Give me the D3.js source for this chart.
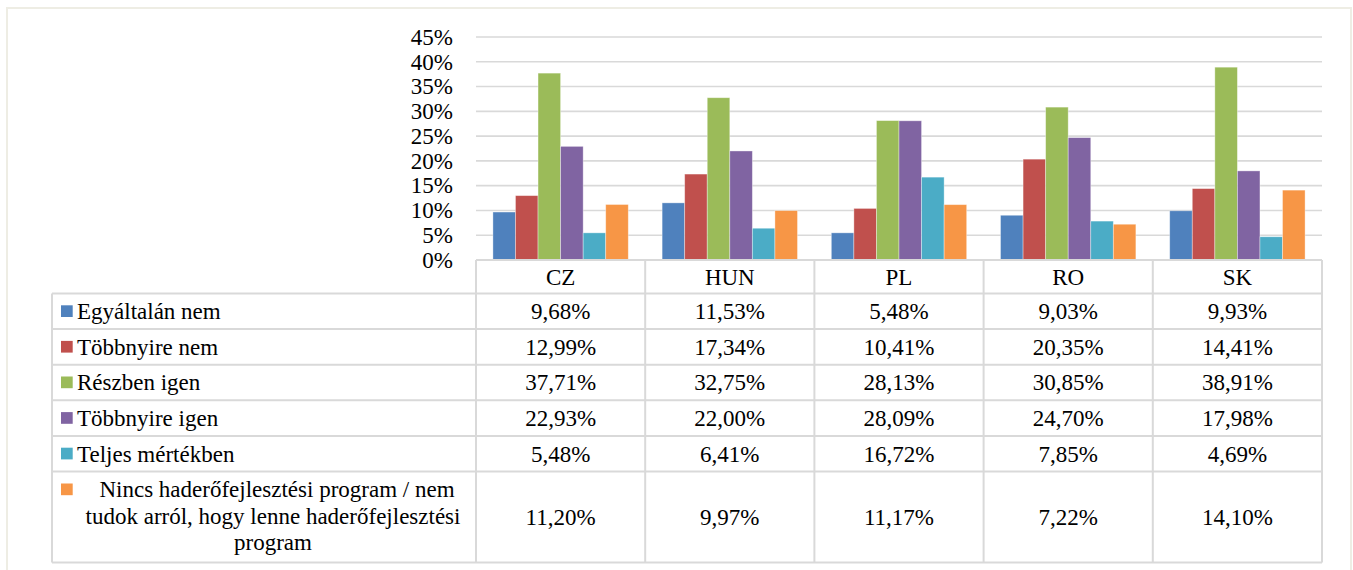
<!DOCTYPE html>
<html><head><meta charset="utf-8">
<script src="https://cdn.jsdelivr.net/npm/d3@7"></script>
</head><body style="margin:0">
<svg id="c" width="1353" height="570"></svg>
<script>
const categories = ["CZ","HUN","PL","RO","SK"];
const seriesLabelLines = [["Egyáltalán nem"],["Többnyire nem"],["Részben igen"],["Többnyire igen"],["Teljes mértékben"],["Nincs haderőfejlesztési program / nem","tudok arról, hogy lenne haderőfejlesztési","program"]];
const egyaltalanNem = [9.68,11.53,5.48,9.03,9.93];
const tobbnyireNem = [12.99,17.34,10.41,20.35,14.41];
const reszbenIgen = [37.71,32.75,28.13,30.85,38.91];
const tobbnyireIgen = [22.93,22.00,28.09,24.70,17.98];
const teljesMertekben = [5.48,6.41,16.72,7.85,4.69];
const nincsProgram = [11.20,9.97,11.17,7.22,14.10];
const yTicks = [0,5,10,15,20,25,30,35,40,45];
const colors = ["#4F81BD","#C0504D","#9BBB59","#8064A2","#4BACC6","#F79646"];

const series = [egyaltalanNem,tobbnyireNem,reszbenIgen,tobbnyireIgen,teljesMertekben,nincsProgram];
const svg = d3.select("#c");
const FS = 23;
const lineCol = "#d9d9d9";

svg.append("path").attr("d","M7,575 L7,8 L1351,8 L1351,575").attr("fill","none").attr("stroke","#eeede4").attr("stroke-width",2);

const x = d3.scaleBand().domain(categories).range([476,1322]).padding(0);
const bw = x.bandwidth();
const x1 = d3.scaleBand().domain(d3.range(6)).range([bw*0.1, bw*0.9]).padding(0);
const y = d3.scaleLinear().domain([0,45]).range([260,37]);

svg.append("g").selectAll("line").data(yTicks.filter(t=>t>0)).join("line")
  .attr("x1",476).attr("x2",1322).attr("y1",d=>y(d)).attr("y2",d=>y(d))
  .attr("stroke",lineCol).attr("stroke-width",1.6);

const gb = svg.append("g");
series.forEach((vals,si)=>{
  gb.append("g").selectAll("rect").data(vals).join("rect")
    .attr("x",(d,i)=>x(categories[i])+x1(si))
    .attr("width",x1.bandwidth())
    .attr("y",d=>y(d))
    .attr("height",d=>y(0)-y(d))
    .attr("fill",colors[si])
    .attr("stroke","#ffffff").attr("stroke-opacity",0.45).attr("stroke-width",0.8);
});

const rowTops = [260,293.5,329.1,364.7,400.3,435.9,471.5];
const tableBottom = 562.5;
const rowBounds = rowTops.concat([tableBottom]);
const fmt = v => v.toFixed(2).replace(".",",")+"%";

svg.append("line").attr("x1",476).attr("x2",1322).attr("y1",260).attr("y2",260).attr("stroke",lineCol).attr("stroke-width",2);
rowBounds.slice(1).forEach(yy=>{
  svg.append("line").attr("x1",52).attr("x2",1322).attr("y1",yy).attr("y2",yy).attr("stroke",lineCol).attr("stroke-width",2);
});
svg.append("line").attr("x1",52).attr("x2",52).attr("y1",293.5).attr("y2",tableBottom).attr("stroke",lineCol).attr("stroke-width",2);
categories.forEach(c=>{
  svg.append("line").attr("x1",x(c)).attr("x2",x(c)).attr("y1",260).attr("y2",tableBottom).attr("stroke",lineCol).attr("stroke-width",2);
});
svg.append("line").attr("x1",1322).attr("x2",1322).attr("y1",260).attr("y2",tableBottom).attr("stroke",lineCol).attr("stroke-width",2);

// all texts collected, then drawn in one join (y tick labels from the scale's tick values)
const texts = [];
yTicks.forEach(t=>texts.push({t:t+"%", x:453, y:y(t)+7.8, a:"end"}));
categories.forEach(c=>texts.push({t:c, x:x(c)+bw/2, y:285, a:"middle"}));
series.forEach((vals,si)=>{
  const cy = (rowBounds[si+1]+rowBounds[si+2])/2;
  vals.forEach((v,i)=>texts.push({t:fmt(v), x:x(categories[i])+bw/2, y:cy+7.8, a:"middle"}));
  const lines = seriesLabelLines[si];
  if(lines.length===1){
    svg.append("rect").attr("x",61).attr("y",cy-6).attr("width",11.7).attr("height",11.7).attr("fill",colors[si]);
    texts.push({t:lines[0], x:77, y:cy+7.8, a:"start"});
  } else {
    svg.append("rect").attr("x",61).attr("y",483.5).attr("width",11.7).attr("height",11.7).attr("fill",colors[si]);
    lines.forEach((ln,li)=>texts.push({t:ln, x:li===0?277:273, y:497+li*26.7, a:"middle"}));
  }
});
svg.selectAll("text").data(texts).join("text")
  .attr("x",d=>d.x).attr("y",d=>d.y).attr("text-anchor",d=>d.a)
  .attr("font-size",FS).attr("font-family","Times New Roman")
  .text(d=>d.t);
</script>
</body></html>
